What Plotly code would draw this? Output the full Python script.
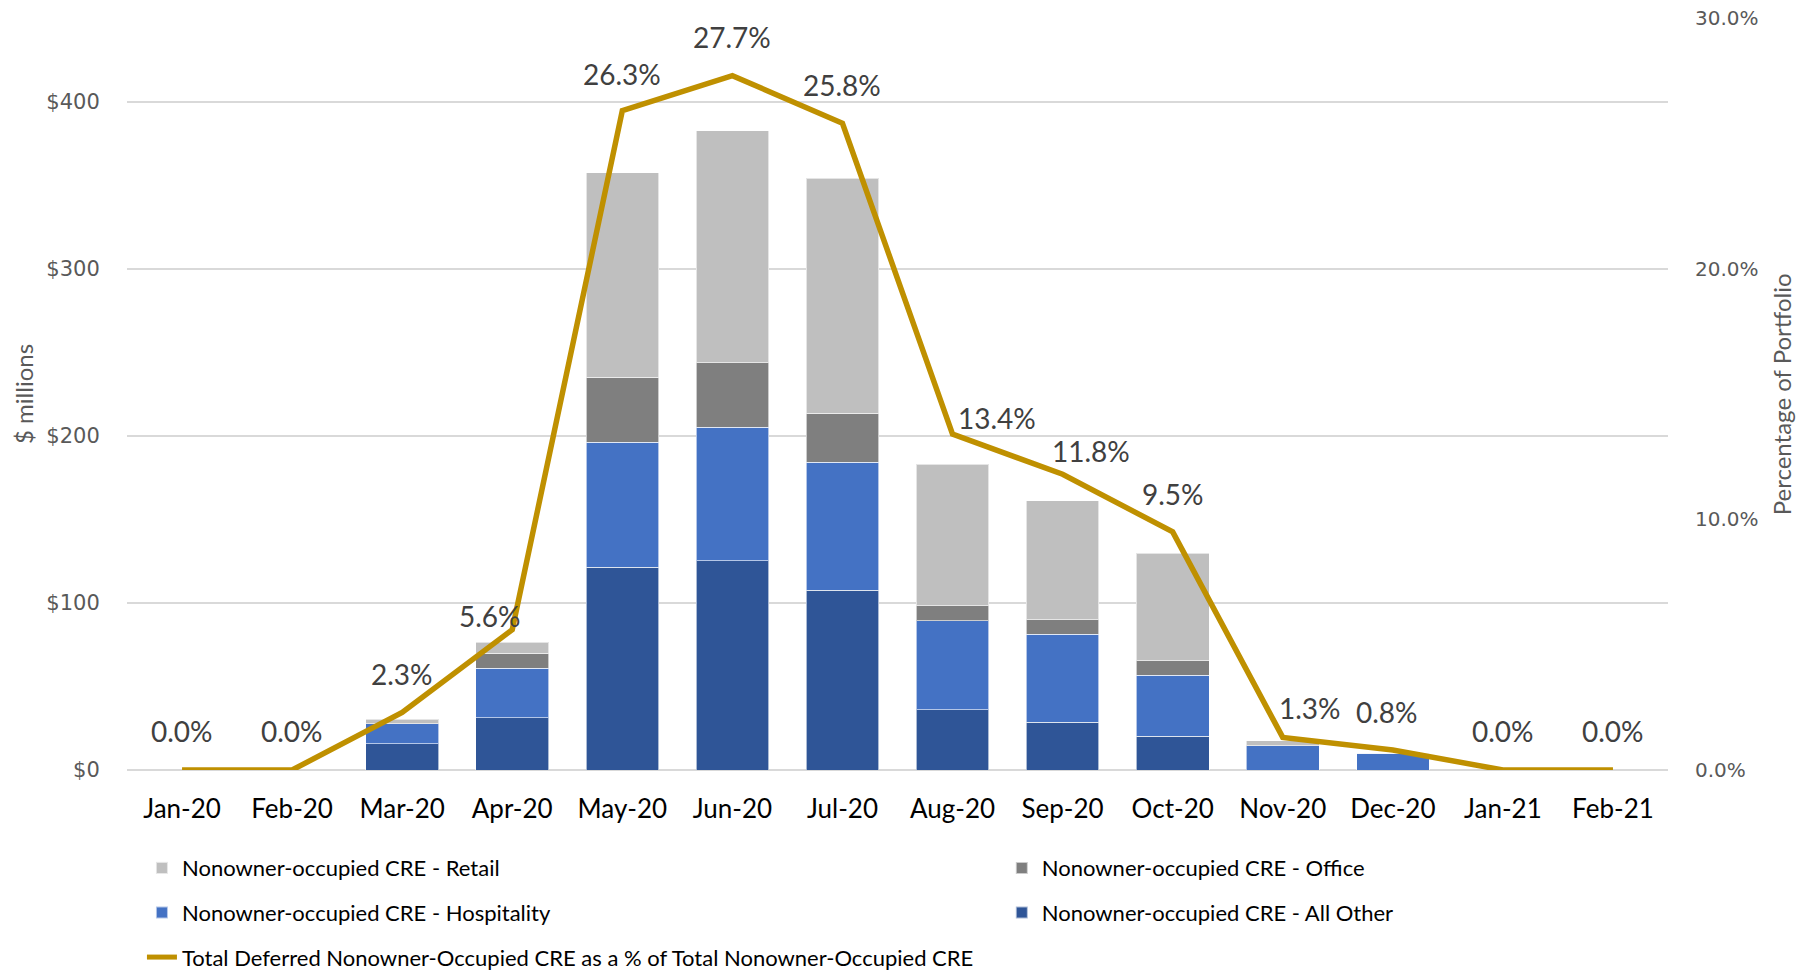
import plotly.graph_objects as go

months = ["Jan-20", "Feb-20", "Mar-20", "Apr-20", "May-20", "Jun-20", "Jul-20",
          "Aug-20", "Sep-20", "Oct-20", "Nov-20", "Dec-20", "Jan-21", "Feb-21"]

# $ millions (segment values)
all_other   = [0, 0, 15.6, 31.2, 121.4, 125.1, 107.6, 36.1, 28.6, 20.2, 0, 0, 0, 0]
hospitality = [0, 0, 12.0, 29.6, 74.8, 79.9, 76.6, 53.3, 52.6, 36.5, 14.6, 10.0, 0, 0]
office      = [0, 0, 0.0, 9.2, 38.8, 38.7, 29.4, 9.0, 8.6, 8.8, 0, 0, 0, 0]
retail      = [0, 0, 2.9, 6.4, 122.3, 138.9, 140.5, 84.7, 71.3, 64.3, 3.0, 0, 0, 0]

pct_deferred = [0.0, 0.0, 2.3, 5.6, 26.3, 27.7, 25.8, 13.4, 11.8, 9.5, 1.3, 0.8, 0.0, 0.0]

# label nudges (px) for the percentage labels
label_dx = [0, 0, 0, -22, 0, 0, 0, 44, 28, 0, 27, -6, 0, 0]
label_dy = [39, 39, 38, 14, 37, 39, 38, 16, 23, 38, 29, 38, 39, 39]

C_RETAIL = "#BFBFBF"
C_OFFICE = "#7F7F7F"
C_HOSP = "#4472C4"
C_OTHER = "#2F5597"
C_LINE = "#BF9000"

fig = go.Figure()

bar_line = dict(color="rgba(255,255,255,0.6)", width=1)

fig.add_trace(go.Bar(x=months, y=all_other, name="Nonowner-occupied CRE - All Other",
                     marker=dict(color=C_OTHER, line=bar_line),
                     legend="legend2", legendrank=2, legendgroup="ao"))
fig.add_trace(go.Bar(x=months, y=hospitality, name="Nonowner-occupied CRE - Hospitality",
                     marker=dict(color=C_HOSP, line=bar_line),
                     legend="legend", legendrank=2, legendgroup="ho"))
fig.add_trace(go.Bar(x=months, y=office, name="Nonowner-occupied CRE - Office",
                     marker=dict(color=C_OFFICE, line=bar_line),
                     legend="legend2", legendrank=1, legendgroup="of"))
fig.add_trace(go.Bar(x=months, y=retail, name="Nonowner-occupied CRE - Retail",
                     marker=dict(color=C_RETAIL, line=bar_line),
                     legend="legend", legendrank=1, legendgroup="re"))
fig.add_trace(go.Scatter(x=months, y=pct_deferred, yaxis="y2", mode="lines",
                         name="Total Deferred Nonowner-Occupied CRE as a % of Total Nonowner-Occupied CRE",
                         line=dict(color=C_LINE, width=5.5),
                         legend="legend", legendrank=3, legendgroup="ln"))

for m, p, dx, dy in zip(months, pct_deferred, label_dx, label_dy):
    fig.add_annotation(x=m, y=p, yref="y2", text=f"{p:.1f}%", showarrow=False,
                       xshift=dx, yshift=dy, yanchor="middle",
                       font=dict(family="Lato", size=28, color="#404040"))

# axis titles
fig.add_annotation(x=-0.0675, y=0.5, xref="paper", yref="paper", text="$ millions",
                   textangle=-90, showarrow=False, xanchor="center", yanchor="middle",
                   font=dict(family="Lato", size=24, color="#595959"))
fig.add_annotation(x=1.0735, y=0.5, xref="paper", yref="paper", text="Percentage of Portfolio",
                   textangle=-90, showarrow=False, xanchor="center", yanchor="middle",
                   font=dict(family="Lato", size=24, color="#595959"))

legend_common = dict(orientation="v", yanchor="top", xanchor="left",
                     font=dict(family="Lato", size=22, color="#000000"),
                     bgcolor="rgba(0,0,0,0)", tracegroupgap=13, itemsizing="constant")

fig.update_layout(
    width=1810, height=970,
    margin=dict(l=127, r=142, t=18, b=200, autoexpand=False),
    plot_bgcolor="white", paper_bgcolor="white",
    barmode="stack", bargap=0.34,
    showlegend=True,
    legend=dict(x=0.0097, y=-0.1025, **legend_common),
    legend2=dict(x=0.5677, y=-0.1025, **legend_common),
    xaxis=dict(showgrid=False, showline=False, ticks="outside", ticklen=16,
               tickcolor="rgba(0,0,0,0)", automargin=False,
               tickfont=dict(family="Lato", size=26, color="#000000")),
    yaxis=dict(range=[0, 450], dtick=100, tickprefix="$", showgrid=True,
               gridcolor="#D9D9D9", gridwidth=1.5, zeroline=True, zerolinecolor="#D9D9D9",
               zerolinewidth=1.5, showline=False, ticks="outside", ticklen=22,
               tickcolor="rgba(0,0,0,0)", automargin=False,
               tickfont=dict(family="DejaVu Sans", size=21, color="#595959")),
    yaxis2=dict(range=[0, 30], dtick=10, tickformat=".1f", ticksuffix="%",
                overlaying="y", side="right", showgrid=False, zeroline=False,
                showline=False, ticks="outside", ticklen=22, tickcolor="rgba(0,0,0,0)",
                automargin=False,
                tickfont=dict(family="DejaVu Sans", size=20, color="#595959")),
)

fig.write_html("out.html", config={"displayModeBar": False},
               post_script="document.body.style.margin='0';document.body.style.overflow='hidden';")
